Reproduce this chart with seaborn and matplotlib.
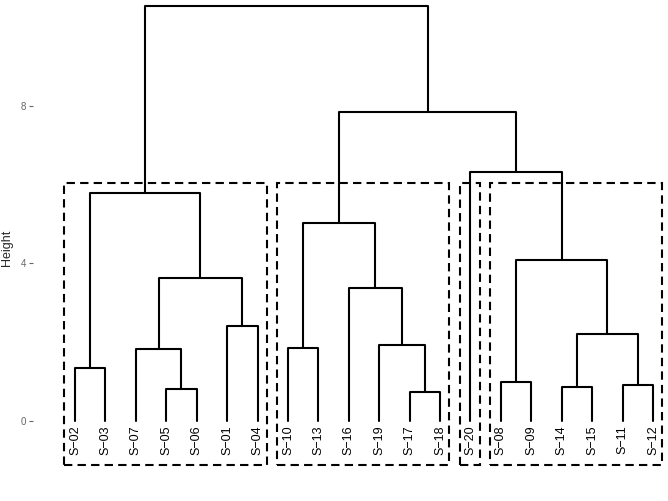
import pandas as pd
import seaborn as sns
from matplotlib import pyplot as plt
from matplotlib.patches import Rectangle

# leaf labels in plotted order
leaves = ["S−02", "S−03", "S−07", "S−05", "S−06", "S−01", "S−04",
          "S−10", "S−13", "S−16", "S−19", "S−17", "S−18", "S−20",
          "S−08", "S−09", "S−14", "S−15", "S−11", "S−12"]

# merges: (left child, right child, height); children are leaf labels or earlier merge ids
merge_left = ["S−05", "S−17", "S−14", "S−11", "S−08", "S−02", "S−07", "S−10", "S−19", "m3",
              "S−01", "S−16", "m7", "m5", "m8", "m6", "S−20", "m15", "m16"]
merge_right = ["S−06", "S−18", "S−15", "S−12", "S−09", "S−03", "m1", "S−13", "m2", "m4",
               "S−04", "m9", "m11", "m10", "m12", "m13", "m14", "m17", "m18"]
merge_height = [0.81, 0.74, 0.86, 0.91, 0.99, 1.35, 1.83, 1.85, 1.93, 2.21,
                2.41, 3.38, 3.63, 4.09, 5.03, 5.79, 6.32, 7.84, 10.53]

# k = 4 clusters (first and last leaf of each box)
cluster_first = ["S−02", "S−10", "S−20", "S−08"]
cluster_last = ["S−04", "S−18", "S−20", "S−12"]
rect_top = 6.04
rect_bottom = -1.12

#node positions
pos = {name: (i + 1, 0.0) for i, name in enumerate(leaves)}
rows = []
for i, (a, b, h) in enumerate(zip(merge_left, merge_right, merge_height)):
  xa, ya = pos[a]
  xb, yb = pos[b]
  seg = "m%d" % (i + 1)
  # the U shape for this merge
  rows += [(seg, xa, ya), (seg, xa, h), (seg, xb, h), (seg, xb, yb)]
  pos[seg] = ((xa + xb) / 2, h)
seg_df = pd.DataFrame(rows, columns=["seg", "x", "y"])

sns.set_theme(style="white")
plt.rcParams["font.family"] = ["Liberation Sans", "DejaVu Sans"]

fig = plt.figure(figsize=(6.68, 5.01), dpi=100)
ax = fig.add_axes([33 / 668, 0, 1 - 33 / 668, 1])

sns.lineplot(data=seg_df, x="x", y="y", units="seg", estimator=None, sort=False,
             color="black", linewidth=1.5, ax=ax)

#leaf labels under the tree
for i, name in enumerate(leaves):
  ax.text(i + 1, -0.12, name, rotation=90, ha="center", va="top", fontsize=9, color="black")

#dashed boxes round the clusters
for first, last in zip(cluster_first, cluster_last):
  x0 = leaves.index(first) + 1 - 0.35
  x1 = leaves.index(last) + 1 + 0.3
  ax.add_patch(Rectangle((x0, rect_bottom), x1 - x0, rect_top - rect_bottom, fill=False,
                         edgecolor="black", linewidth=1.5, linestyle=(0, (4, 2.5))))

ax.set_xlim(-0.381, 20.494)
ax.set_ylim(-2.03, 10.685)
ax.set_xticks([])
ax.set_yticks([0, 4, 8])
ax.tick_params(axis="y", left=True, length=3, width=0.8, color="#666666",
               labelcolor="#666666", labelsize=7, pad=2)
ax.set(xlabel="", ylabel="Height")
ax.yaxis.label.set_size(9)
ax.yaxis.set_label_coords(-0.0315, 0.505)
for s in ax.spines.values():
  s.set_visible(False)

fig.savefig("out.png")
